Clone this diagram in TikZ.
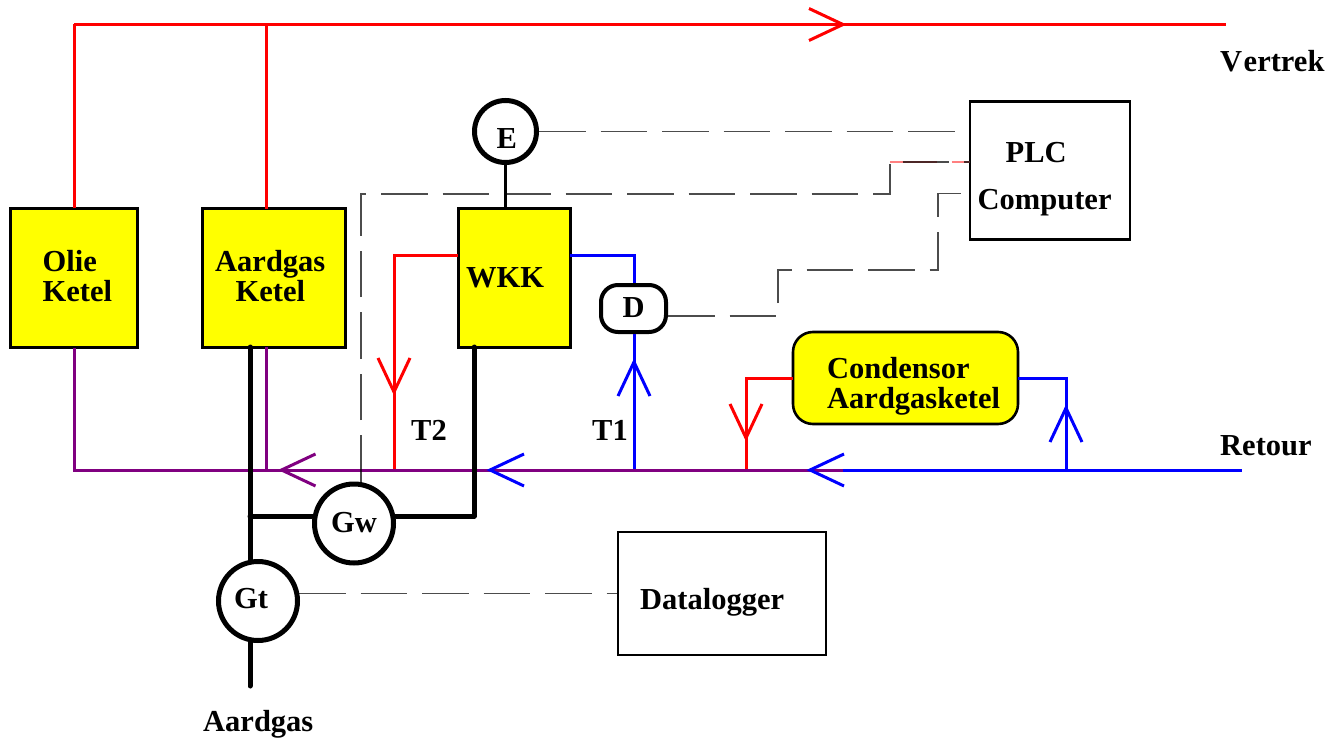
\documentclass[tikz,border=0pt]{standalone}
\usepackage{fontspec}
\setmainfont{Liberation Serif}
\usepackage{tikz}

\definecolor{retourpurple}{RGB}{128,0,128}
\definecolor{unityellow}{RGB}{255,255,0}
\definecolor{pipered}{RGB}{255,0,0}
\definecolor{pipeblue}{RGB}{0,0,255}

\tikzset{
	pipe/.style={line width=3pt, line join=miter},
	gasline/.style={line width=5pt, line cap=round, line join=round},
	signal/.style={black, draw opacity=0.7, line width=1.3pt, dash pattern=on 46.5pt off 15pt},
	unitbox/.style={draw, line width=3pt, fill=unityellow, outer sep=0pt, inner sep=0pt},
	plainbox/.style={draw, line width=2.6pt, fill=white, outer sep=0pt, inner sep=0pt},
	meter/.style={circle, draw, line width=5pt, fill=white, outer sep=2.5pt, inner sep=0pt},
	lab/.style={anchor=base west, inner sep=0pt, font=\fontsize{30.5}{34}\selectfont\bfseries}
}

\begin{document}
\begin{tikzpicture}[x=1pt, y=-1pt]
	\useasboundingbox (0,0) rectangle (1341,738);
	
	% Fixed points on the pipes
	\coordinate (vertrekL) at (74,24.5);
	\coordinate (vertrekR) at (1226,24.5);
	\coordinate (retourL) at (74,470);
	\coordinate (retourM) at (843,470);
	\coordinate (retourB) at (700,470);
	\coordinate (retourR) at (1242,470);
	\coordinate (akTop) at (266,209);
	\coordinate (akBot) at (266,347);
	\coordinate (wkkRed) at (458,255);
	\coordinate (wkkBlue) at (570,255);
	\coordinate (t2) at (394,255);
	\coordinate (t1) at (634,255);
	\coordinate (cRed) at (746,378);
	\coordinate (cBlue) at (1066,378);
	\coordinate (gasL) at (250,347);
	\coordinate (gasJ) at (250,516);
	\coordinate (gasGt) at (250,562);
	\coordinate (gasIn) at (250,640);
	\coordinate (gasEnd) at (250,686);
	\coordinate (gasR) at (474,347);
	\coordinate (gasRJ) at (474,516);
	
	% === BOXES ===
	\node[unitbox, minimum width=127pt, minimum height=139pt] (olie) at (73.5,278) {};
	\node[unitbox, minimum width=143pt, minimum height=139pt] (aardgas) at (273.5,278) {};
	\node[unitbox, minimum width=112pt, minimum height=139pt] (wkk) at (514,278) {};
	\node[unitbox, line width=2.6pt, rounded corners=20pt, minimum width=225pt, minimum height=92pt] (condensor) at (905.5,378) {};
	\node[plainbox, minimum width=160pt, minimum height=138pt] (plc) at (1050,170.5) {};
	\node[plainbox, minimum width=208pt, minimum height=123pt] (logger) at (722,593.5) {};
	
	% === METERS ===
	\node[meter, minimum size=62pt] (E) at (505.5,131.5) {};
	\node[meter, minimum size=79pt] (Gw) at (354,523.5) {};
	\node[meter, minimum size=79pt] (Gt) at (258,601) {};
	\node[draw, line width=4pt, fill=white, rounded corners=17pt, outer sep=2pt, inner sep=0pt, minimum width=65pt, minimum height=47pt] (D) at (633.5,308.5) {};
	
	% === PIPES ===
	\draw[pipered, pipe] (vertrekL) -- (vertrekR);
	\draw[pipered, pipe] (vertrekL |- olie.north) -- (vertrekL);
	\draw[pipered, pipe] (akTop) -- (akTop |- vertrekL);
	\draw[pipered, pipe] (wkkRed) -- (t2) -- (t2 |- retourL);
	\draw[pipered, pipe] (condensor.west) -- (cRed) -- (cRed |- retourL);
	\draw[pipeblue, pipe] (wkkBlue) -- (t1) -- (D.north -| t1);
	\draw[pipeblue, pipe] (D.south -| t1) -- (t1 |- retourL);
	\draw[pipeblue, pipe] (condensor.east) -- (cBlue) -- (cBlue |- retourR);
	\draw[pipeblue, pipe] (retourB) -- (retourR);
	\draw[retourpurple, pipe] (retourL |- olie.south) -- (retourL) -- (retourM);
	\draw[retourpurple, pipe] (akBot) -- (akBot |- retourL);
	
	% Flow marks
	\foreach \tx/\ty/\ang/\col in {843/24.5/180/pipered, 281.5/470/0/retourpurple, 490/470/0/pipeblue, 810/470/0/pipeblue, 394/392/90/pipered, 746/438/90/pipered, 634/362/270/pipeblue, 1066/408/270/pipeblue} {
		\draw[\col, pipe, shift={(\tx,\ty)}, rotate=\ang] (34,-16) -- (0,0) -- (34,16);
	}
	
	% === GAS ===
	\draw[gasline] (gasL) -- (gasGt);
	\draw[gasline] (gasIn) -- (gasEnd);
	\draw[gasline] (gasJ) -- (Gw.west |- gasJ);
	\draw[gasline] (gasR) -- (gasRJ) -- (Gw.east |- gasRJ);
	\draw[line width=3pt] (E.south) -- (E.south |- wkk.north);
	
	% === SIGNALS ===
	\coordinate (plcW) at (970,162);
	\coordinate (plcD) at (970,193.5);
	\coordinate (sigA) at (890,162);
	\coordinate (sigB) at (890,194);
	\coordinate (sigC) at (361,194);
	\coordinate (sigD) at (778,316);
	\coordinate (sigF) at (778,270);
	\coordinate (sigG) at (938,270);
	\coordinate (sigH) at (938,193.5);
	\coordinate (gtOut) at (299,593.5);
	\draw[signal] (E.east) -- (E.east -| plc.west);
	\draw[pipered!50, line width=1.3pt, dash pattern=on 46.5pt off 15pt] (sigA) -- (plcW);
	\draw[signal] (sigC |- Gw.north) -- (sigC) -- (sigB) -- (sigA) -- (plcW);
	\draw[signal] (D.east |- sigD) -- (sigD) -- (sigF) -- (sigG) -- (sigH) -- (plcD);
	\draw[signal] (gtOut) -- (logger.west);
	
	% === TEXTS ===
	\node[lab] (olieA) at (42.5,271) {Olie};
	\node[lab] (olieB) at (42.5,301) {Ketel};
	\node[lab] (aardgasA) at (215,271) {Aardgas};
	\node[lab] (aardgasB) at (235.5,301) {Ketel};
	\node[lab] (wkkA) at (466,287) {WKK};
	\node[lab] (condA) at (827,378) {Condensor};
	\node[lab] (condB) at (827,408) {Aardgasketel};
	\node[lab] (plcA) at (1005.5,163) {PLC};
	\node[lab] (plcB) at (977.5,210) {Computer};
	\node[lab] (loggerA) at (640,609) {Datalogger};
	\node[lab] (Etxt) at (496.5,149) {E};
	\node[lab] (Dtxt) at (622.5,317) {D};
	\node[lab] (Gwtxt) at (331,532) {Gw};
	\node[lab] (Gttxt) at (234,608) {Gt};
	\node[lab] (T2txt) at (411,440) {T2};
	\node[lab] (T1txt) at (592,440) {T1};
	\node[lab] (vertrek) at (1220,72) {V\kern1.5pt ertrek};
	\node[lab] (retour) at (1220,455) {Retour};
	\node[lab] (gasTxt) at (203,731) {Aardgas};
\end{tikzpicture}
\end{document}
